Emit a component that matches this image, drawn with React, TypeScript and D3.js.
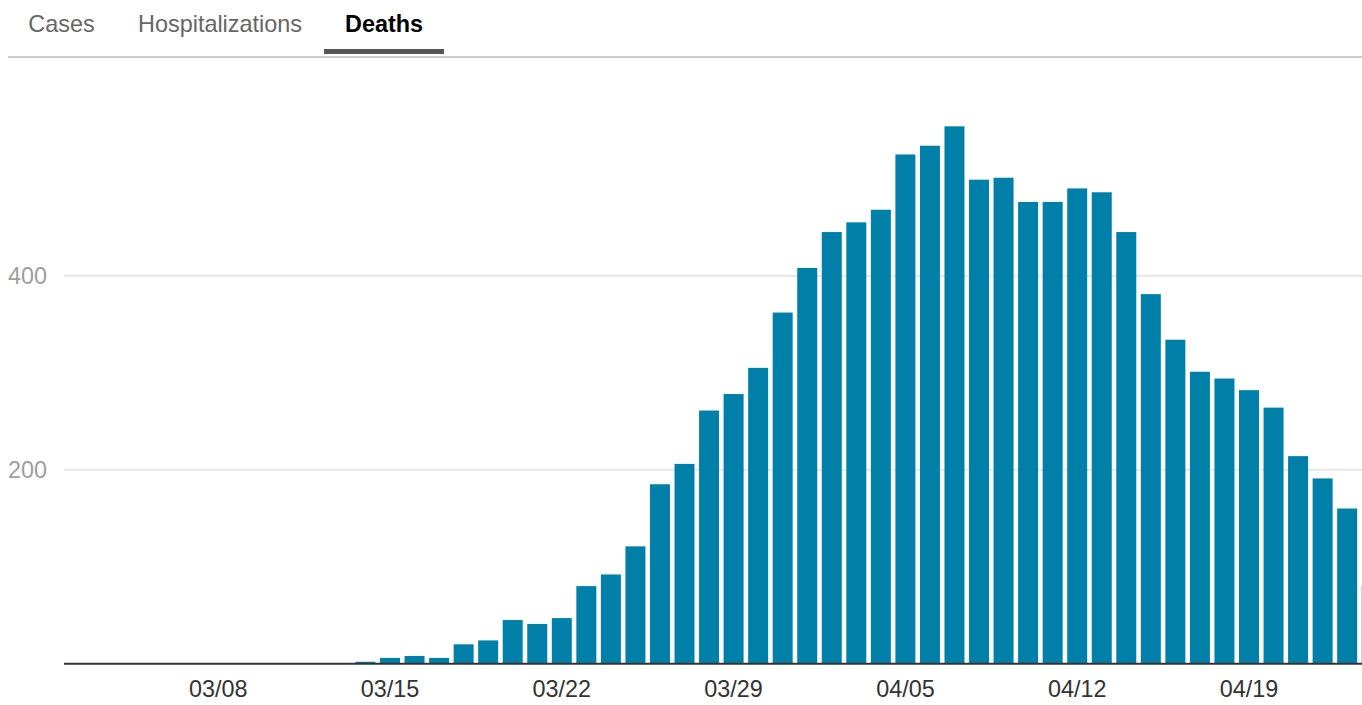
import React from "react";
import * as d3 from "d3";

const tabs = ["Cases", "Hospitalizations", "Deaths"];
const activeTab = "Deaths";

const dates = [
  "2020-03-14", "2020-03-15", "2020-03-16", "2020-03-17", "2020-03-18", "2020-03-19", "2020-03-20",
  "2020-03-21", "2020-03-22", "2020-03-23", "2020-03-24", "2020-03-25", "2020-03-26", "2020-03-27",
  "2020-03-28", "2020-03-29", "2020-03-30", "2020-03-31", "2020-04-01", "2020-04-02", "2020-04-03",
  "2020-04-04", "2020-04-05", "2020-04-06", "2020-04-07", "2020-04-08", "2020-04-09", "2020-04-10",
  "2020-04-11", "2020-04-12", "2020-04-13", "2020-04-14", "2020-04-15", "2020-04-16", "2020-04-17",
  "2020-04-18", "2020-04-19", "2020-04-20", "2020-04-21", "2020-04-22", "2020-04-23", "2020-04-24",
];

const deaths = [
  2, 6, 8, 6, 20, 24, 45,
  41, 47, 80, 92, 121, 185, 206,
  261, 278, 305, 362, 408, 445, 455,
  468, 525, 534, 554, 499, 501, 476,
  476, 490, 486, 445, 381, 334, 301,
  294, 282, 264, 214, 191, 160, 80,
];

const xTicks = ["2020-03-08", "2020-03-15", "2020-03-22", "2020-03-29", "2020-04-05", "2020-04-12", "2020-04-19"];
const yTicks = [200, 400];

const W = 1362;
const H = 705;
const FONT = "'Liberation Sans', Arial, Helvetica, sans-serif";

export default function App() {
  const parse = (s: string) => new Date(s + "T00:00:00Z");
  const fmt = d3.utcFormat("%m/%d");

  const x = d3
    .scaleUtc()
    .domain([parse("2020-03-15"), parse("2020-04-19")])
    .range([390, 1249]);
  const y = d3.scaleLinear().domain([0, 400]).range([663.7, 275.7]);
  const barW = 20;
  const plotLeft = 64;

  const tabX = [61.5, 220, 384];

  return (
    <svg
      width={W}
      height={H}
      style={{ position: "absolute", left: 0, top: 0, background: "#fff" }}
    >
      {/* tabs */}
      {tabs.map((t, i) => (
        <text
          key={t}
          x={tabX[i]}
          y={32}
          textAnchor="middle"
          fontFamily={FONT}
          fontSize={23.4}
          fontWeight={t === activeTab ? 700 : 400}
          fill={t === activeTab ? "#000" : "#666"}
        >
          {t}
        </text>
      ))}
      <line x1={8} x2={W} y1={57} y2={57} stroke="#cccccc" strokeWidth={2} />
      <rect x={324} y={49} width={120} height={5} fill="#555555" />

      {/* gridlines */}
      {yTicks.map((t) => (
        <g key={t}>
          <line x1={plotLeft} x2={W} y1={y(t)} y2={y(t)} stroke="#e6e6e6" strokeWidth={2} />
          <text
            x={8}
            y={y(t)}
            dy="0.35em"
            fontFamily={FONT}
            fontSize={23.4}
            fill="#9e9e9e"
          >
            {t}
          </text>
        </g>
      ))}

      {/* bars */}
      {dates.map((d, i) => (
        <rect
          key={d}
          x={x(parse(d)) - barW / 2}
          y={y(deaths[i])}
          width={barW}
          height={y(0) - y(deaths[i])}
          fill="#0080a8"
        />
      ))}

      {/* axis */}
      <line x1={plotLeft} x2={W} y1={y(0)} y2={y(0)} stroke="#333" strokeWidth={2} />
      {xTicks.map((t) => (
        <text
          key={t}
          x={x(parse(t))}
          y={697}
          textAnchor="middle"
          fontFamily={FONT}
          fontSize={23.4}
          fill="#333"
        >
          {fmt(parse(t))}
        </text>
      ))}
    </svg>
  );
}
